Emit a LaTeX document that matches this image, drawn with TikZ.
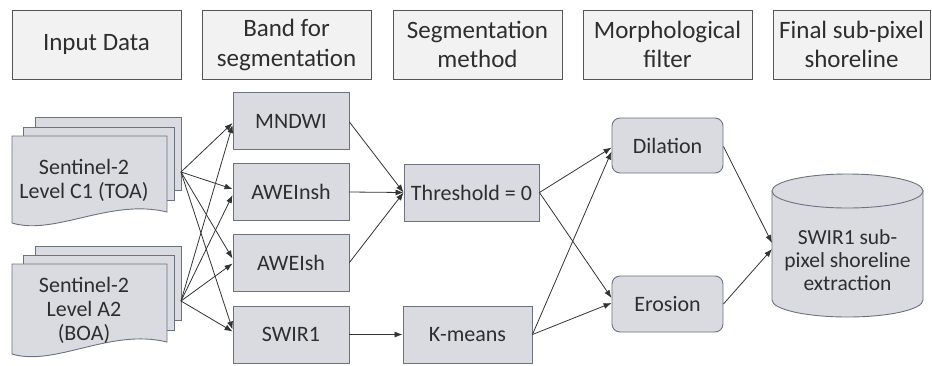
\documentclass[tikz,border=0pt]{standalone}
\usepackage{fontspec}
\setmainfont{Carlito}
\usetikzlibrary{arrows.meta,calc}
\definecolor{hdrfill}{HTML}{F2F2F2}
\definecolor{hdrline}{HTML}{555555}
\definecolor{boxfill}{HTML}{D9DBE1}
\definecolor{boxline}{HTML}{6B7280}
\definecolor{txt}{HTML}{2E2E2E}
\definecolor{arr}{HTML}{333333}
\tikzset{
  hdr/.style={draw=hdrline, fill=hdrfill, line width=0.9pt, minimum width=169pt, minimum height=69pt, inner sep=0pt, align=center, text=txt, font=\fontsize{25}{29.5}\selectfont},
  bandbox/.style={draw=boxline, fill=boxfill, line width=0.9pt, minimum width=116pt, minimum height=57pt, inner sep=0pt, align=center, text=txt, font=\fontsize{22}{24}\selectfont},
  roundbox/.style={bandbox, rounded corners=8pt},
  docpage/.style={draw=boxline, fill=boxfill, line width=0.9pt},
  doctext/.style={align=center, text=txt, inner sep=0pt, font=\fontsize{22}{24}\selectfont},
  conn/.style={draw=arr, line width=0.8pt, -{Latex[length=8pt,width=6pt]}},
}
\begin{document}
\begin{tikzpicture}[x=1pt,y=-1pt]
\useasboundingbox (0,0) rectangle (932,365);
% headers
\node[hdr] (h1) at (96.5,44.5) {Input Data};
\node[hdr] (h2) at (286.5,45) {Band for\\segmentation};
\node[hdr] (h3) at (477.5,44.5) {Segmentation\\method};
\node[hdr] (h4) at (667.5,44.5) {Morphological\\filter};
\node[hdr, minimum width=157pt] (h5) at (851.5,44.5) {Final sub-pixel\\shoreline};
% documents top
\path[docpage] (35,117) rectangle (181,190);
\path[docpage] (23,127) rectangle (174,200);
\path[docpage] (12,136) -- (167,136) -- (167,212) .. controls (110,198) and (55,236) .. (12,223) -- cycle;
\node[doctext] (doc1) at (84,180) {Sentinel-2\\Level C1 (TOA)};
\coordinate (d1o) at (181,172);
% documents bottom
\path[docpage] (35,246) rectangle (181,320);
\path[docpage] (23,255) rectangle (174,330);
\path[docpage] (12,264) -- (167,264) -- (167,342) .. controls (110,328) and (55,367) .. (12,354) -- cycle;
\node[doctext] (doc2) at (84,310) {Sentinel-2\\Level A2\\(BOA)};
\coordinate (d2o) at (181,301);
% band boxes
\node[bandbox] (mndwi) at (291,121) {MNDWI};
\node[bandbox] (awein) at (291,192) {AWEInsh};
\node[bandbox] (aweis) at (291,262.5) {AWEIsh};
\node[bandbox] (swir) at (291,334.5) {SWIR1};
% segmentation
\node[bandbox, minimum width=135pt] (thr) at (471.5,192.5) {Threshold = 0};
\node[bandbox, minimum width=129pt] (km) at (467.5,334.5) {K-means};
% morphology
\node[roundbox, minimum width=111pt, minimum height=55pt] (dil) at (667.5,145.5) {Dilation};
\node[roundbox, minimum width=111pt, minimum height=56pt] (ero) at (667.5,304) {Erosion};
% cylinder
\path[docpage] (772,191) -- (772,300) arc[start angle=180, end angle=0, x radius=75.5, y radius=17] -- (923,191) -- cycle;
\path[docpage] (847.5,191) ellipse [x radius=75.5, y radius=17];
\node[doctext, font=\fontsize{21.5}{23}\selectfont] (cyl) at (847.5,260) {SWIR1 sub-\\pixel shoreline\\extraction};
\coordinate (cin1) at (772,243);
\coordinate (cin2) at (772,249);
% connectors from documents
\draw[conn] (d1o) -- ($(mndwi.west)+(0,2)$);
\draw[conn] (d1o) -- ($(awein.west)+(0,-3)$);
\draw[conn] (d1o) -- ($(aweis.west)+(0,-4)$);
\draw[conn] (d1o) -- ($(swir.west)+(0,-5)$);
\draw[conn] (d2o) -- ($(mndwi.west)+(0,4)$);
\draw[conn] (d2o) -- ($(awein.west)+(0,3)$);
\draw[conn] (d2o) -- ($(aweis.west)+(0,1)$);
\draw[conn] (d2o) -- ($(swir.west)+(0,-3)$);
% bands to segmentation
\draw[conn] ($(mndwi.east)+(0,1)$) -- (thr.west);
\draw[conn] (awein.east) -- (thr.west);
\draw[conn] (aweis.east) -- (thr.west);
\draw[conn] (swir.east) -- (km.west);
% segmentation to morphology
\draw[conn] (thr.east) -- ($(dil.west)+(0,2)$);
\draw[conn] (thr.east) -- ($(ero.west)+(0,-6)$);
\draw[conn] (km.east) -- ($(dil.west)+(0,6)$);
\draw[conn] (km.east) -- ($(ero.west)+(0,-1)$);
% morphology to cylinder
\draw[conn] ($(dil.east)+(0,1)$) -- (cin1);
\draw[conn] (ero.east) -- (cin2);
\end{tikzpicture}
\end{document}
